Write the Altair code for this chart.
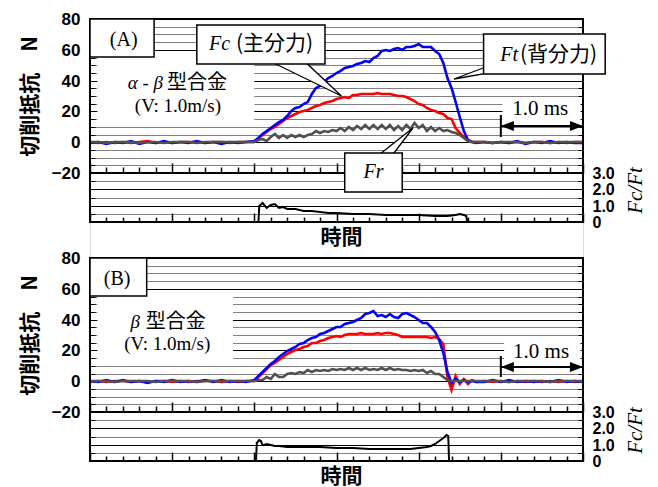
import altair as alt
import pandas as pd

# ---------------- time grid (ms) ----------------
T_PRE = [0.0, 0.1, 0.2, 0.3, 0.4, 0.5, 0.6, 0.7, 0.8, 0.9,
         1.0, 1.1, 1.2, 1.3, 1.4, 1.5, 1.6, 1.7, 1.8, 1.9]
T_ACT = [2.00, 2.05, 2.10, 2.15, 2.20, 2.25, 2.30, 2.35, 2.40, 2.45,
         2.50, 2.55, 2.60, 2.65, 2.70, 2.75, 2.80, 2.85, 2.90, 2.95,
         3.00, 3.05, 3.10, 3.15, 3.20, 3.25, 3.30, 3.35, 3.40, 3.45,
         3.50, 3.55, 3.60, 3.65, 3.70, 3.75, 3.80, 3.85, 3.90, 3.95,
         4.00, 4.05, 4.10, 4.15, 4.20, 4.25, 4.30, 4.35, 4.40, 4.45,
         4.50, 4.55, 4.60, 4.65, 4.70]
T_POST = [4.8, 4.9, 5.0, 5.1, 5.2, 5.3, 5.4, 5.5, 5.6, 5.7, 5.8, 5.9, 6.0]

# ---------------- panel A (alpha-beta alloy) ----------------
A_FT_PRE = [-0.6, 0.4, -0.9, 0.3, -0.5, 0.6, -1.0, 0.2, -0.4, 0.5, -0.8, 0.3, -0.6, 0.7, -0.3, 0.4, -0.9, 0.2, -0.5, 0.3]
A_FT_ACT = [0.5, 3.0, 5.5, 7.0, 9.5, 11.0, 13.0, 14.5, 17.0, 20.0,
            22.0, 23.0, 25.0, 26.0, 31.0, 35.0, 36.5, 39.0, 41.5, 43.0,
            45.0, 46.5, 48.0, 49.0, 49.5, 51.0, 51.5, 52.5, 52.0, 54.5,
            56.0, 59.5, 60.0, 59.0, 60.5, 61.0, 60.0, 62.0, 61.5, 62.5,
            63.5, 62.0, 61.5, 62.0, 59.5, 57.0, 51.5, 42.0, 35.0, 26.0,
            16.5, 7.0, 1.5, 0.3, -0.5]
A_FT_POST = [0.4, -0.8, 0.3, -0.6, 0.5, -0.9, 0.2, -0.5, 0.6, -0.7, 0.3, -0.8, -0.2]

A_FC_PRE = [0.2, -0.3, 0.4, -0.2, 0.3, -0.4, 0.2, 0.5, -0.2, 0.3, -0.3, 0.4, -0.1, 0.3, -0.4, 0.2, 0.4, -0.2, 0.3, 0.1]
A_FC_ACT = [0.3, 2.5, 4.5, 6.5, 8.5, 10.0, 12.0, 13.5, 15.5, 17.0,
            18.0, 19.5, 20.5, 21.0, 22.5, 23.5, 24.0, 25.5, 26.0, 27.0,
            28.0, 28.5, 29.5, 29.0, 30.5, 30.5, 31.0, 31.5, 31.0, 31.5,
            32.0, 31.5, 31.0, 31.5, 30.5, 30.0, 30.0, 29.5, 28.0, 26.5,
            25.0, 24.0, 22.5, 21.0, 20.0, 19.0, 18.0, 15.5, 15.0, 9.0,
            6.0, 3.5, 1.0, 0.2, 0.3]
A_FC_POST = [0.3, -0.2, 0.4, -0.3, 0.2, -0.4, 0.3, 0.1, -0.3, 0.4, -0.2, 0.3, 0.0]

A_FR_PRE = [0.0, 0.2, -0.2, 0.1, -0.1, 0.2, -0.2, 0.1, 0.0, -0.2, 0.2, -0.1, 0.1, -0.2, 0.2, 0.0, -0.1, 0.2, -0.1, 0.1]
A_FR_ACT = [0.0, 1.5, 2.0, 1.0, 3.5, 5.5, 3.0, 4.5, 3.0, 4.5,
            3.5, 4.5, 3.5, 4.5, 5.5, 7.0, 6.0, 7.5, 6.5, 8.0,
            7.0, 9.0, 7.5, 10.0, 8.0, 10.5, 8.5, 11.0, 8.5, 11.0,
            8.5, 11.0, 8.5, 11.0, 8.0, 10.5, 8.0, 11.0, 8.5, 12.5,
            9.0, 11.0, 7.5, 10.0, 7.5, 9.5, 7.0, 8.0, 6.5, 6.0,
            4.5, 3.0, 1.0, 0.3, 0.0]
A_FR_POST = [0.2, -0.2, 0.1, -0.1, 0.2, -0.2, 0.0, 0.1, -0.2, 0.2, -0.1, 0.1, 0.0]

A_RATIO_T = [2.05, 2.06, 2.10, 2.15, 2.20, 2.25, 2.30, 2.35, 2.40, 2.50, 2.60, 2.70, 2.80, 2.90,
             3.00, 3.20, 3.40, 3.60, 3.80, 4.00, 4.20, 4.35, 4.45, 4.50, 4.55, 4.58, 4.59]
A_RATIO = [0.0, 1.0, 1.15, 0.85, 1.05, 1.1, 0.85, 0.9, 0.8, 0.78, 0.7, 0.66, 0.62, 0.58,
           0.54, 0.5, 0.48, 0.45, 0.42, 0.4, 0.38, 0.38, 0.42, 0.48, 0.4, 0.36, 0.0]

# ---------------- panel B (beta alloy) ----------------
B_FT_PRE = [0.3, -0.7, 0.5, -0.4, 0.8, -0.6, 0.2, -0.9, 0.4, -0.3, 0.7, -0.5, 0.3, -0.8, 0.5, -0.2, 0.6, -0.7, 0.3, -0.4]
B_FT_ACT = [0.5, 3.5, 6.0, 8.5, 11.0, 13.0, 15.5, 17.5, 19.5, 21.0,
            22.5, 24.0, 25.0, 26.5, 28.0, 29.0, 30.5, 31.5, 32.5, 34.0,
            35.0, 35.5, 37.0, 37.5, 38.5, 40.0, 41.0, 43.5, 44.5, 45.5,
            42.5, 43.0, 42.0, 43.5, 42.0, 41.0, 43.5, 44.0, 43.0, 41.5,
            39.5, 38.0, 37.5, 35.5, 32.0, 27.0, 18.5, 6.0, -1.0, 1.5,
            -0.5, 0.8, -0.5, 0.3, -0.2]
B_FT_POST = [-0.6, 0.5, -0.3, 0.7, -0.5, 0.3, -0.8, 0.4, -0.2, 0.6, -0.7, 0.2, -0.4]

B_FC_PRE = [-0.2, 0.3, -0.3, 0.2, 0.4, -0.2, 0.3, -0.4, 0.2, 0.1, -0.3, 0.3, -0.2, 0.4, -0.1, 0.2, -0.3, 0.3, -0.2, 0.2]
B_FC_ACT = [0.3, 3.0, 5.5, 8.0, 10.5, 12.0, 14.0, 15.5, 17.5, 19.0,
            20.0, 21.0, 22.5, 23.0, 24.5, 25.0, 26.0, 26.5, 28.0, 28.5,
            29.5, 29.0, 30.0, 30.5, 30.5, 30.5, 31.0, 30.5, 30.5, 30.5,
            31.0, 30.5, 31.0, 31.0, 30.5, 30.0, 29.0, 29.0, 28.5, 29.0,
            28.5, 28.5, 28.5, 28.0, 28.5, 27.5, 24.0, 3.0, -5.5, 3.5,
            -1.5, 1.5, -2.0, 0.5, -0.3]
B_FC_POST = [0.4, -0.5, 0.3, -0.2, 0.3, -0.3, 0.2, -0.4, 0.3, -0.2, 0.2, -0.3, 0.1]

B_FR_PRE = [0.1, -0.1, 0.2, -0.2, 0.1, 0.0, -0.1, 0.2, -0.2, 0.1, -0.1, 0.2, 0.0, -0.2, 0.1, -0.1, 0.2, -0.1, 0.1, 0.0]
B_FR_ACT = [0.0, 0.5, 1.0, 2.5, 1.5, 4.5, 3.0, 2.5, 4.5, 5.5,
            4.5, 6.0, 5.5, 7.0, 6.0, 7.5, 6.5, 7.5, 6.5, 8.0,
            7.0, 8.0, 7.0, 8.5, 7.5, 8.5, 7.5, 8.5, 7.0, 8.0,
            7.5, 8.5, 7.5, 8.5, 7.0, 8.0, 7.0, 7.5, 6.5, 7.5,
            6.5, 7.0, 5.5, 6.5, 5.0, 4.5, 3.0, 1.0, 0.3, 0.0,
            0.3, 0.0, 0.2, 0.0, 0.0]
B_FR_POST = [0.2, -0.1, 0.1, -0.2, 0.2, 0.0, -0.1, 0.1, -0.2, 0.1, 0.0, 0.1, 0.0]

B_RATIO_T = [2.02, 2.03, 2.06, 2.08, 2.10, 2.12, 2.15, 2.20, 2.25, 2.30, 2.40, 2.50, 2.60, 2.80,
             3.00, 3.20, 3.40, 3.60, 3.80, 3.90, 4.00, 4.10, 4.15, 4.20, 4.25, 4.30, 4.34, 4.36, 4.37]
B_RATIO = [0.0, 1.1, 1.28, 1.2, 1.0, 0.97, 1.07, 0.95, 0.93, 0.9, 0.88, 0.87, 0.85, 0.83,
           0.81, 0.78, 0.74, 0.71, 0.72, 0.74, 0.78, 0.85, 0.92, 1.02, 1.2, 1.42, 1.62, 1.55, 0.0]

# ---------------- annotations (data units) ----------------
A_BOX = {"x": [0.0, 1.30, 4.79, 3.10], "x2": [0.78, 2.86, 6.27, 3.80],
         "y": [80, 76.3, 70.4, -6.7], "y2": [55.5, 51.0, 44.5, -32.6]}
B_BOX = {"x": [0.0], "x2": [0.69], "y": [80], "y2": [55.2]}
A_WHITE = {"x": [0.09, 5.02], "x2": [2.0, 5.97], "y": [56.5, 29.0], "y2": [13.0, 14.5]}
B_WHITE = {"x": [0.09, 5.04], "x2": [1.74, 5.97], "y": [57.0, 26.4], "y2": [12.5, 13.4]}
A_WEDGE = {"id": ["fc", "fc", "fc", "ft", "ft", "ft", "fr", "fr", "fr"],
           "k": [0, 1, 2, 0, 1, 2, 0, 1, 2],
           "x": [2.21, 3.06, 2.62, 4.85, 4.43, 4.85, 3.53, 3.93, 3.69],
           "y": [52.0, 29.8, 52.0, 49.3, 41.3, 44.8, -7.5, 8.9, -7.5]}
A_SERIF = {"s": ["(A)", "(V: 1.0m/s)", "1.0 ms"], "x": [0.41, 1.07, 5.48], "y": [66.6, 23.7, 21.5], "fs": [20, 19, 21]}
B_SERIF = {"s": ["(B)", "(V: 1.0m/s)", "1.0 ms"], "x": [0.33, 0.94, 5.49], "y": [66.2, 24.4, 19.2], "fs": [20, 19, 21]}
A_ITAL = {"s": ["α - β", "Fc", "Ft", "Fr"], "x": [0.888, 1.704, 5.209, 3.572], "y": [38.7, 64.0, 56.8, -19.6], "fs": [19, 20, 20, 20]}
B_ITAL = {"s": ["β"], "x": [0.608], "y": [38.3], "fs": [19]}
A_CJK = {"s": ["型合金", "(主分力)", "(背分力)"], "x": [0.937, 1.777, 5.233], "y": [38.7, 64.0, 56.8], "fs": [20, 21, 21]}
B_CJK = {"s": ["型合金"], "x": [0.68], "y": [38.3], "fs": [20]}
A_ARROW = {"x": [5.0, 5.0], "x2": [6.0, 5.0], "y": [10.4, 3.7], "y2": [10.4, 17.9]}
B_ARROW = {"x": [5.0, 5.0], "x2": [6.0, 5.0], "y": [9.5, 2.6], "y2": [9.5, 16.6]}
HEAD_L = "M0,0L2,-0.75L2,0.75Z"
HEAD_R = "M0,0L-2,-0.75L-2,0.75Z"
A_HEADS = {"x": [5.0, 6.0], "y": [10.4, 10.4], "shp": [HEAD_L, HEAD_R]}
B_HEADS = {"x": [5.0, 6.0], "y": [9.5, 9.5], "shp": [HEAD_L, HEAD_R]}
MAIN_FRAME = {"x": [0.0], "x2": [6.0], "y": [-20], "y2": [80]}
RATIO_FRAME = {"x": [0.0], "x2": [6.0], "y": [0.0], "y2": [3.0]}

# ---------------- layout / styles ----------------
W, H = 493, 442
RNG = {"A": {"main": [154, 0], "ratio": [203, 154]},
       "B": {"main": [393, 239], "ratio": [442, 393]}}
SERIF = "Liberation Serif"
SANS = "Liberation Sans"
CJK = "Noto Sans CJK JP"
YV = list(range(-20, 85, 5))
RV = [0, 0.5, 1, 1.5, 2, 2.5, 3]
X_MAJOR = [0, 1, 2, 3, 4, 5, 6]
X_MINOR = [round(0.2 * i, 1) for i in range(31) if i % 5 != 0]

XS = alt.Scale(domain=[0, 6], nice=False, zero=False)


def ysc(p, kind):
    dom = [-20, 80] if kind == "main" else [0, 3]
    return alt.Scale(domain=dom, range=RNG[p][kind], nice=False, zero=False, round=True)


def y_left_main():
    return alt.Axis(orient="left", offset=-5, values=YV, tickSize=5, tickWidth=1, tickColor="black",
                    domain=False, labelExpr="datum.value % 20 === 0 ? datum.label : ''",
                    labelFont=SANS, labelFontSize=17, labelFontWeight="bold", labelColor="black",
                    labelPadding=10, labelOverlap=False,
                    grid=True, gridColor="black", gridWidth=1, gridOpacity=1,
                    gridDash={"condition": {"test": "datum.value % 20 === 0", "value": []}, "value": [1, 1]},
                    title="切削抵抗　N", titleFont=CJK, titleFontSize=21, titleFontWeight="bold",
                    titleColor="black", titlePadding=11, minExtent=0)


def y_right_ratio(title_y):
    return alt.Axis(orient="right", offset=-5, values=RV, tickSize=5, tickWidth=1, tickColor="black",
                    domain=False,
                    labelExpr="datum.value === 0 ? '0' : (datum.value % 1 === 0 ? format(datum.value, '.1f') : '')",
                    labelFont=SANS, labelFontSize=16, labelFontWeight="bold", labelColor="black",
                    labelPadding=9, labelOverlap=False,
                    grid=True, gridColor="black", gridWidth=1, gridOpacity=1,
                    gridDash={"condition": {"test": "datum.value % 1 === 0", "value": []}, "value": [1, 1]},
                    title="Fc/Ft", titleFont=SERIF, titleFontSize=21, titleFontStyle="italic",
                    titleFontWeight="normal", titleColor="black", titleAngle=270, titleBaseline="top",
                    titleAlign="center", titlePadding=10, titleY=title_y, minExtent=0)


def ticks_only(orient, values):
    return alt.Axis(orient=orient, offset=-5, values=values, tickSize=5, tickWidth=1, tickColor="black",
                    labels=False, domain=False, grid=False, title=None, minExtent=0)


def x_ticks(pos, values, size):
    return alt.Axis(orient="top", offset=-pos, values=values, labels=False, domain=False, grid=False,
                    tickColor="black", tickWidth=1.5, tickSize=size, title=None, minExtent=0)


def x_title(pos):
    return alt.Axis(orient="bottom", offset=pos - H, ticks=False, labels=False, domain=False, grid=False,
                    title="時間", titleFont=CJK, titleFontSize=21, titleFontWeight="bold",
                    titleColor="black", titlePadding=4, titleX=251, minExtent=0)


def series_df(pre, act, post):
    return pd.DataFrame({"t": T_PRE + T_ACT + T_POST, "v": pre + act + post})


def panel(p, ft, fc, fr, rt, rv, white, boxes, wedges, serif, ital, cjk, arrow, heads, title_y):
    main_bottom = RNG[p]["main"][0]
    ratio_bottom = RNG[p]["ratio"][0]
    L = []
    # white backgrounds behind labels (carries left main axis + grid, main major x ticks)
    L.append(alt.Chart(pd.DataFrame(white)).mark_rect(fill="white").encode(
        x=alt.X("x:Q", scale=XS, axis=x_ticks(main_bottom, X_MAJOR, 10)), x2="x2:Q",
        y=alt.Y("y:Q", scale=ysc(p, "main"), axis=y_left_main()), y2="y2:Q"))
    # curves
    L.append(alt.Chart(series_df(*fc)).mark_line(color="#ff0000", strokeWidth=2.6).encode(
        x=alt.X("t:Q", scale=XS, axis=x_ticks(main_bottom, X_MINOR, 6)),
        y=alt.Y("v:Q", scale=ysc(p, "main"), axis=ticks_only("right", YV))))
    L.append(alt.Chart(series_df(*ft)).mark_line(color="#0000ff", strokeWidth=2.6).encode(
        x=alt.X("t:Q", scale=XS, axis=x_ticks(ratio_bottom, X_MAJOR, 9)),
        y=alt.Y("v:Q", scale=ysc(p, "main"), axis=None)))
    L.append(alt.Chart(series_df(*fr)).mark_line(color="#505050", strokeWidth=2.6).encode(
        x=alt.X("t:Q", scale=XS, axis=x_ticks(ratio_bottom, X_MINOR, 5)),
        y=alt.Y("v:Q", scale=ysc(p, "main"), axis=None)))
    # ratio line
    L.append(alt.Chart(pd.DataFrame({"t": rt, "r": rv})).mark_line(color="black", strokeWidth=2).encode(
        x=alt.X("t:Q", scale=XS, axis=None),
        y=alt.Y("r:Q", scale=ysc(p, "ratio"), axis=y_right_ratio(title_y))))
    # frames
    L.append(alt.Chart(pd.DataFrame(RATIO_FRAME)).mark_rect(fillOpacity=0, stroke="black", strokeWidth=2).encode(
        x=alt.X("x:Q", scale=XS, axis=x_title(ratio_bottom)), x2="x2:Q",
        y=alt.Y("y:Q", scale=ysc(p, "ratio"), axis=ticks_only("left", RV)), y2="y2:Q"))
    L.append(alt.Chart(pd.DataFrame(MAIN_FRAME)).mark_rect(fillOpacity=0, stroke="black", strokeWidth=2).encode(
        x=alt.X("x:Q", scale=XS, axis=None), x2="x2:Q",
        y=alt.Y("y:Q", scale=ysc(p, "main"), axis=None), y2="y2:Q"))
    # callout wedges
    if wedges is not None:
        L.append(alt.Chart(pd.DataFrame(wedges)).mark_line(
            interpolate="linear-closed", fill="white", stroke="black", strokeWidth=1.3).encode(
            x=alt.X("x:Q", scale=XS, axis=None),
            y=alt.Y("y:Q", scale=ysc(p, "main"), axis=None),
            detail="id:N", order="k:Q"))
    # boxes
    L.append(alt.Chart(pd.DataFrame(boxes)).mark_rect(fill="white", stroke="black", strokeWidth=1.5).encode(
        x=alt.X("x:Q", scale=XS, axis=None), x2="x2:Q",
        y=alt.Y("y:Q", scale=ysc(p, "main"), axis=None), y2="y2:Q"))
    # texts
    for data, font, style, align in ((serif, SERIF, "normal", "center"),
                                     (ital, SERIF, "italic", "right"),
                                     (cjk, CJK, "normal", "left")):
        L.append(alt.Chart(pd.DataFrame(data)).mark_text(
            font=font, fontStyle=style, align=align, baseline="middle", color="black").encode(
            x=alt.X("x:Q", scale=XS, axis=None),
            y=alt.Y("y:Q", scale=ysc(p, "main"), axis=None),
            text="s:N", size=alt.Size("fs:Q", scale=None, legend=None)))
    # 1.0 ms arrow
    L.append(alt.Chart(pd.DataFrame(arrow)).mark_rule(color="black", strokeWidth=2).encode(
        x=alt.X("x:Q", scale=XS, axis=None), x2="x2:Q",
        y=alt.Y("y:Q", scale=ysc(p, "main"), axis=None), y2="y2:Q"))
    L.append(alt.Chart(pd.DataFrame(heads)).mark_point(filled=True, color="black", size=170, opacity=1).encode(
        x=alt.X("x:Q", scale=XS, axis=None),
        y=alt.Y("y:Q", scale=ysc(p, "main"), axis=None),
        shape=alt.Shape("shp:N", scale=None, legend=None)))
    return L


layers = []
layers += panel("A", (A_FT_PRE, A_FT_ACT, A_FT_POST), (A_FC_PRE, A_FC_ACT, A_FC_POST),
                (A_FR_PRE, A_FR_ACT, A_FR_POST), A_RATIO_T, A_RATIO, A_WHITE, A_BOX, A_WEDGE,
                A_SERIF, A_ITAL, A_CJK, A_ARROW, A_HEADS, 171)
layers += panel("B", (B_FT_PRE, B_FT_ACT, B_FT_POST), (B_FC_PRE, B_FC_ACT, B_FC_POST),
                (B_FR_PRE, B_FR_ACT, B_FR_POST), B_RATIO_T, B_RATIO, B_WHITE, B_BOX, None,
                B_SERIF, B_ITAL, B_CJK, B_ARROW, B_HEADS, 411)

chart = alt.layer(*layers).resolve_scale(y="independent").resolve_axis(
    x="independent", y="independent").properties(
    width=W, height=H,
    autosize=alt.AutoSizeParams(type="none"),
    padding={"left": 82, "top": 11, "right": 67, "bottom": 26},
).configure_view(stroke="transparent").configure(background="white")

chart.save("out.html", embed_options={"renderer": "svg", "actions": False})
